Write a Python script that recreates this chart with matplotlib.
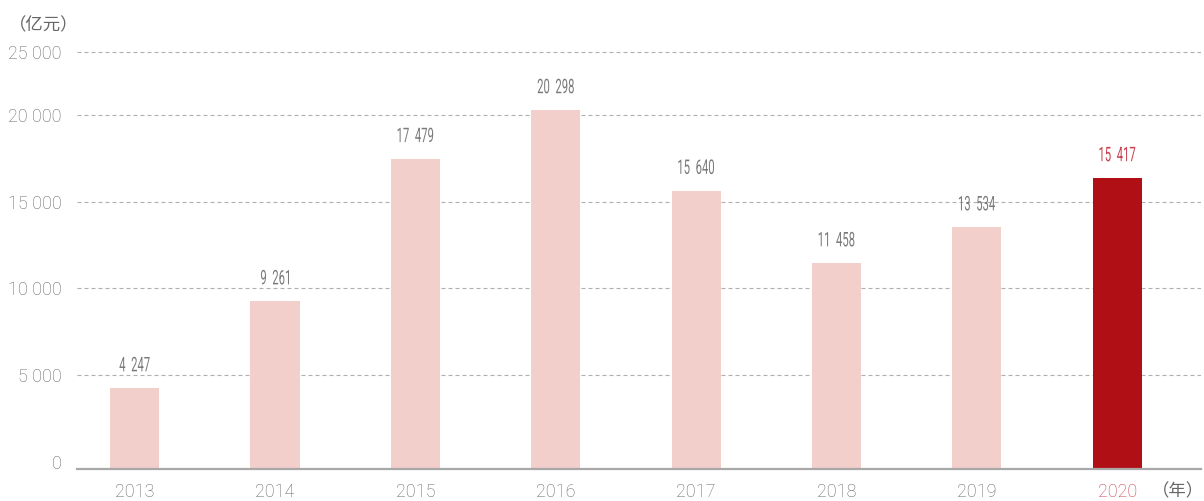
import matplotlib
matplotlib.use("Agg")
import matplotlib.pyplot as plt
import numpy as np
from matplotlib.textpath import TextPath
from matplotlib.patches import PathPatch
from matplotlib.font_manager import FontProperties
from matplotlib.transforms import Affine2D, ScaledTranslation

# 数据
years = ["2013", "2014", "2015", "2016", "2017", "2018", "2019", "2020"]
value_labels = ["4 247", "9 261", "17 479", "20 298", "15 640", "11 458", "13 534", "15 417"]
# 柱高按图中量取（2020 柱在原图中画得比标注值高）
bar_heights = [4247, 9261, 17479, 20298, 15640, 11458, 13534, 16370]
ytick_labels = ["0", "5 000", "10 000", "15 000", "20 000", "25 000"]
ytick_pos = [0, 5000, 10000, 15000, 20000, 23650]

light = "#f3cfcc"
dark = "#b10f16"
grey = "#666666"
red_txt = "#c8404c"

plt.rcParams["font.family"] = ["Roboto", "DejaVu Sans"]

fig = plt.figure(figsize=(12.04, 5.01), dpi=100)
ax = fig.add_axes([77 / 1204, 32 / 501, 1124 / 1204, 429 / 501])

ymin, ymax = -427, 24342
x = np.arange(len(years))
colors = [light] * (len(years) - 1) + [dark]
heights = np.array(bar_heights) - ymin
ax.bar(x, heights, bottom=ymin, width=0.35, color=colors, zorder=2)

ax.set_xlim(-0.41, 7.596)
ax.set_ylim(ymin, ymax)

# 数值标注：窄体字，用 TextPath 横向压缩
fp = FontProperties(family="Roboto", weight="normal")
px = fig.dpi / 72
for i, (h, lab) in enumerate(zip(bar_heights, value_labels)):
    c = red_txt if i == len(years) - 1 else "#7a7a7a"
    tp = TextPath((0, 0), lab.replace(" ", "  "), size=14.5, prop=fp)
    ext = tp.get_extents()
    cx = (ext.x0 + ext.x1) / 2
    cy = (ext.y0 + ext.y1) / 2
    tr = (Affine2D().translate(-cx, -cy).scale(0.56 * px, px).translate(0, 24)
          + ScaledTranslation(x[i], h, ax.transData))
    ax.add_artist(PathPatch(tp, transform=tr, facecolor=c, edgecolor="none",
                            clip_on=False, zorder=4))

# 坐标轴
ax.set_yticks(ytick_pos)
ax.set_yticklabels(ytick_labels, fontsize=13, color=grey, fontweight="light")
ax.set_xticks(x)
ax.set_xticklabels(years, fontsize=13, color=grey, fontweight="light")
ax.get_xticklabels()[-1].set_color(red_txt)
ax.tick_params(axis="y", length=0, pad=11)
ax.tick_params(axis="x", length=0, pad=10)

ax.grid(axis="y", color="#b0b0b0", linewidth=0.8, linestyle=(0, (3.6, 2.7)), zorder=0)
ax.set_axisbelow(True)
ax.yaxis.get_gridlines()[0].set_visible(False)

for s in ["left", "right", "top"]:
    ax.spines[s].set_visible(False)
ax.spines["bottom"].set_color("#a8a8a8")
ax.spines["bottom"].set_linewidth(1.6)
ax.spines["bottom"].set_zorder(3)

cjk = ["Noto Sans CJK SC", "DejaVu Sans"]
fig.text(9 / 1204, 1 - 25 / 501, "（亿元）", fontsize=12.5, color=grey,
         family=cjk, fontweight="light", ha="left", va="center")
fig.text(1204 / 1204, 1 - 491 / 501, "（年）", fontsize=12.5, color=grey,
         family=cjk, fontweight="light", ha="right", va="center")

fig.savefig("out.png", dpi=100)
